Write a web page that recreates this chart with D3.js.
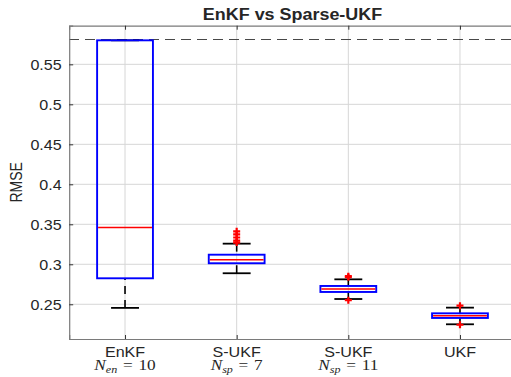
<!DOCTYPE html>
<html>
<head>
<meta charset="utf-8">
<script src="https://cdn.jsdelivr.net/npm/d3@7"></script>
<style>
  html, body { margin: 0; padding: 0; background: #fff; }
  svg { display: block; }
  text { font-family: "Liberation Sans", Arial, sans-serif; fill: #262626; }
</style>
</head>
<body>
<svg id="chart" width="511" height="377"></svg>
<script>
// Box-plot statistics for each filter configuration
const categories = ["EnKF", "S-UKF", "S-UKF", "UKF"];
const mathLabels = [
  { sym: "N", sub: "en", value: "10" },
  { sym: "N", sub: "sp", value: "7" },
  { sym: "N", sub: "sp", value: "11" },
  null
];
const q1Values       = [0.2825, 0.3013, 0.2654, 0.2329];
const medianValues   = [0.3460, 0.3056, 0.2691, 0.2358];
const q3Values       = [0.5800, 0.3120, 0.2729, 0.2387];
const whiskerLow     = [0.2455, 0.2888, 0.2566, 0.2250];
const whiskerHigh    = [0.5800, 0.3258, 0.2812, 0.2458];
const outlierValues  = [
  [],
  [0.3412, 0.3375, 0.3335, 0.3295, 0.3272],
  [0.2852, 0.2838, 0.2552],
  [0.2483, 0.2244]
];
const referenceLevel = 0.5805;
const yTicks = [0.25, 0.3, 0.35, 0.4, 0.45, 0.5, 0.55];

const SX = 1.15;  // horizontal stretch of the exported figure's text

const svg = d3.select("#chart");
const plotLeft = 69.2, plotRight = 515.8, plotTop = 25.7, plotBottom = 339;

const x = d3.scaleLinear().domain([0.5, 4.5]).range([plotLeft, plotRight]);
const y = d3.scaleLinear().domain([0.2066, 0.5983]).range([plotBottom, plotTop]);

const idx = categories.map((_, i) => i + 1);

// grid
const grid = svg.append("g");
grid.selectAll("line.h").data(yTicks).join("line")
  .attr("x1", plotLeft).attr("x2", plotRight)
  .attr("y1", d => y(d)).attr("y2", d => y(d))
  .attr("stroke", "#d6d6d6").attr("stroke-width", 1);
grid.selectAll("line.v").data(idx).join("line")
  .attr("x1", d => x(d)).attr("x2", d => x(d))
  .attr("y1", plotTop).attr("y2", plotBottom)
  .attr("stroke", "#d6d6d6").attr("stroke-width", 1);

// reference level
svg.append("line")
  .attr("x1", plotLeft).attr("x2", plotRight)
  .attr("y1", y(referenceLevel)).attr("y2", y(referenceLevel))
  .attr("stroke", "#484848").attr("stroke-width", 1)
  .attr("shape-rendering", "crispEdges")
  .attr("stroke-dasharray", "10,6");

// axes
const axisColor = "#7a7a7a";
function styleAxis(g) {
  g.select(".domain").attr("stroke", axisColor).attr("stroke-width", 1.2);
  g.selectAll(".tick line").attr("stroke", "#333").attr("stroke-width", 1);
}
const yAxis = svg.append("g").attr("transform", `translate(${plotLeft},0)`)
  .call(d3.axisLeft(y).tickValues(yTicks).tickFormat(d3.format("~g"))
        .tickSize(-4).tickPadding(0))
  .call(styleAxis);
yAxis.selectAll(".tick text")
  .attr("x", -7.5 / SX).attr("y", 5).attr("dy", null)
  .attr("transform", `scale(${SX},1)`)
  .style("font-size", "14px").attr("fill", "#262626")
  .style("font-family", "Liberation Sans, Arial, sans-serif");

svg.append("g").attr("transform", `translate(0,${plotBottom})`)
  .call(d3.axisBottom(x).tickValues(idx).tickFormat("").tickSize(-4))
  .call(styleAxis);
svg.append("g").attr("transform", `translate(0,${plotTop})`)
  .call(d3.axisTop(x).tickValues(idx).tickFormat("").tickSize(-4))
  .call(styleAxis);

// category labels
function stretchedText(px, py, str, size, weight) {
  return svg.append("text")
    .attr("transform", `translate(${px},${py}) scale(${SX},1)`)
    .attr("text-anchor", "middle")
    .style("font-size", size + "px")
    .style("font-weight", weight || "normal")
    .text(str);
}
categories.forEach((c, i) => stretchedText(x(i + 1), 357.2, c, 14));

// second label line: N with subscript, typeset math style
mathLabels.forEach((m, i) => {
  if (!m) return;
  const t = svg.append("text")
    .attr("transform", `translate(${x(i + 1)},370.4) scale(${SX},1)`)
    .attr("text-anchor", "middle")
    .style("font-family", "'Liberation Serif', 'Times New Roman', serif")
    .style("font-size", "15px")
    .attr("fill", "#262626");
  t.append("tspan").style("font-style", "italic").text(m.sym);
  t.append("tspan").style("font-style", "italic").style("font-size", "10.5px")
    .attr("dy", 2.5).text(m.sub);
  t.append("tspan").attr("dy", -2.5).text("\u2004=\u2004" + m.value);
});

// title and axis label
stretchedText((plotLeft + plotRight) / 2, 20, "EnKF vs Sparse-UKF", 15.6, "bold");
svg.append("text")
  .attr("transform", `translate(22,${(plotTop + plotBottom) / 2}) rotate(-90) scale(1,${SX})`)
  .attr("text-anchor", "middle")
  .style("font-size", "14px")
  .text("RMSE");

// box plots
const boxHalf = 0.25, capHalf = 0.125;
const boxes = svg.append("g");
idx.forEach((k, i) => {
  const g = boxes.append("g");
  // whiskers, dashed from cap toward box
  g.append("line")
    .attr("x1", x(k)).attr("x2", x(k))
    .attr("y1", y(whiskerLow[i])).attr("y2", y(q1Values[i]))
    .attr("stroke", "#000").attr("stroke-width", 1.6)
    .attr("stroke-dasharray", "8,6");
  g.append("line")
    .attr("x1", x(k)).attr("x2", x(k))
    .attr("y1", y(whiskerHigh[i])).attr("y2", y(q3Values[i]))
    .attr("stroke", "#000").attr("stroke-width", 1.6)
    .attr("stroke-dasharray", "8,6");
  [whiskerLow[i], whiskerHigh[i]].forEach(v => {
    g.append("line")
      .attr("x1", x(k - capHalf)).attr("x2", x(k + capHalf))
      .attr("y1", y(v)).attr("y2", y(v))
      .attr("stroke", "#000").attr("stroke-width", 1.8);
  });
  g.append("rect")
    .attr("x", x(k - boxHalf)).attr("width", x(k + boxHalf) - x(k - boxHalf))
    .attr("y", y(q3Values[i])).attr("height", y(q1Values[i]) - y(q3Values[i]))
    .attr("fill", "none").attr("stroke", "#0000ff").attr("stroke-width", 1.9);
  g.append("line")
    .attr("x1", x(k - boxHalf) + 1).attr("x2", x(k + boxHalf) - 1)
    .attr("y1", y(medianValues[i])).attr("y2", y(medianValues[i]))
    .attr("stroke", "#ff0000").attr("stroke-width", 1.5);
  outlierValues[i].forEach(v => {
    const cx = x(k), cy = y(v), r = 3.5;
    g.append("path")
      .attr("d", `M${cx - r},${cy}H${cx + r}M${cx},${cy - r}V${cy + r}`)
      .attr("stroke", "#ff0000").attr("stroke-width", 2.2).attr("fill", "none");
  });
});
</script>
</body>
</html>
